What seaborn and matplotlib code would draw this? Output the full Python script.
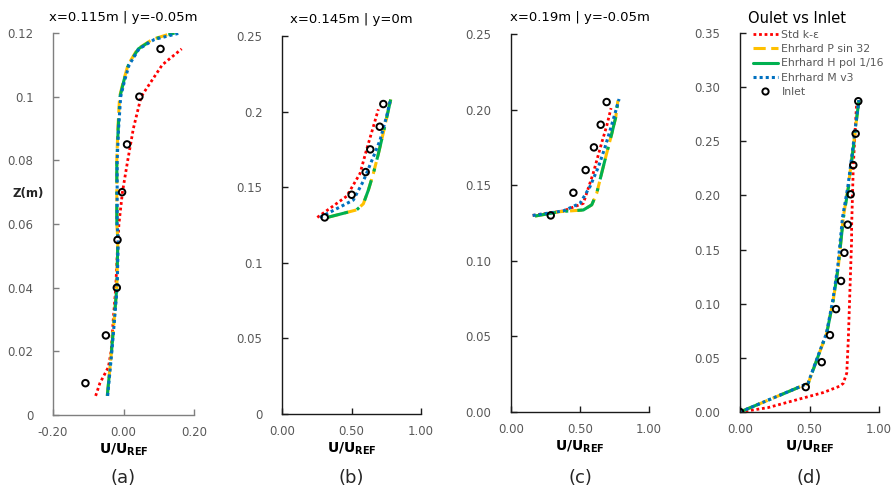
import numpy as np
import pandas as pd
import matplotlib
matplotlib.use("Agg")
import matplotlib.pyplot as plt
import seaborn as sns
from matplotlib.lines import Line2D

# ---------------- data ----------------
# Panel (a)  x=0.115m | y=-0.05m
a_inlet_z = [0.01, 0.025, 0.04, 0.055, 0.07, 0.085, 0.1, 0.115]
a_inlet_u = [-0.108, -0.05, -0.019, -0.017, -0.004, 0.010, 0.045, 0.105]
a_std_z = [0.006, 0.01, 0.015, 0.02, 0.03, 0.04, 0.05, 0.06, 0.07, 0.08, 0.09, 0.1, 0.105, 0.11, 0.115]
a_std_u = [-0.079, -0.067, -0.043, -0.035, -0.029, -0.022, -0.018, -0.013, -0.003, 0.012, 0.028, 0.05, 0.08, 0.11, 0.165]
a_ehr_z = [0.006, 0.02, 0.04, 0.055, 0.06, 0.08, 0.09, 0.1, 0.105, 0.11, 0.115, 0.118, 0.12]
a_ehrP_u = [-0.046, -0.034, -0.019, -0.016, -0.019, -0.019, -0.016, -0.011, 0.0, 0.013, 0.040, 0.082, 0.14]
a_ehrH_u = [-0.046, -0.034, -0.019, -0.016, -0.019, -0.019, -0.015, -0.010, 0.001, 0.014, 0.042, 0.084, 0.145]
a_ehrM_u = [-0.045, -0.033, -0.018, -0.015, -0.018, -0.018, -0.014, -0.008, 0.003, 0.016, 0.044, 0.088, 0.16]

# Panel (b)  x=0.145m | y=0m
b_inlet_z = [0.130, 0.145, 0.160, 0.175, 0.190, 0.205]
b_inlet_u = [0.307, 0.501, 0.602, 0.635, 0.703, 0.729]
b_std_z = [0.130, 0.144, 0.159, 0.175, 0.190, 0.2015]
b_std_u = [0.254, 0.465, 0.561, 0.609, 0.657, 0.693]
b_ehrM_z = [0.130, 0.1415, 0.154, 0.170, 0.181, 0.197, 0.2066]
b_ehrM_u = [0.273, 0.513, 0.585, 0.657, 0.705, 0.753, 0.777]
b_ehr_z = [0.130, 0.135, 0.139, 0.148, 0.159, 0.172, 0.186, 0.208]
b_ehrP_u = [0.326, 0.537, 0.585, 0.621, 0.657, 0.693, 0.729, 0.782]
b_ehrH_u = [0.326, 0.537, 0.585, 0.621, 0.657, 0.693, 0.729, 0.782]

# Panel (c)  x=0.19m | y=-0.05m
c_inlet_z = [0.130, 0.145, 0.160, 0.175, 0.190, 0.205]
c_inlet_u = [0.288, 0.452, 0.541, 0.601, 0.650, 0.693]
c_std_z = [0.130, 0.133, 0.138, 0.158, 0.178, 0.189, 0.201]
c_std_u = [0.157, 0.379, 0.524, 0.596, 0.657, 0.693, 0.725]
c_ehrM_z = [0.130, 0.133, 0.138, 0.149, 0.162, 0.175, 0.186, 0.1975, 0.207]
c_ehrM_u = [0.157, 0.379, 0.500, 0.572, 0.633, 0.681, 0.717, 0.754, 0.783]
c_ehr_z = [0.1296, 0.1325, 0.1336, 0.137, 0.1446, 0.158, 0.171, 0.184, 0.195, 0.206]
c_ehrP_u = [0.174, 0.355, 0.524, 0.585, 0.621, 0.657, 0.693, 0.730, 0.759, 0.775]
c_ehrH_u = [0.174, 0.355, 0.524, 0.585, 0.621, 0.657, 0.693, 0.730, 0.759, 0.775]

# Panel (d)  Oulet vs Inlet
d_inlet_z = [0.0, 0.023, 0.046, 0.071, 0.095, 0.121, 0.147, 0.173, 0.201, 0.228, 0.257, 0.287]
d_inlet_u = [0.0, 0.473, 0.588, 0.647, 0.691, 0.727, 0.751, 0.775, 0.796, 0.815, 0.832, 0.851]
d_std_z = [0.0, 0.004, 0.011, 0.018, 0.024, 0.0265, 0.036, 0.0665, 0.113, 0.159, 0.171, 0.2265, 0.2574, 0.285]
d_std_u = [0.0, 0.2, 0.4, 0.6, 0.72, 0.743, 0.768, 0.779, 0.791, 0.803, 0.803, 0.815, 0.827, 0.839]
d_ehr_z = [0.0, 0.0265, 0.048, 0.0727, 0.1034, 0.134, 0.159, 0.180, 0.208, 0.245, 0.272, 0.288]
d_ehrP_u = [0.0, 0.491, 0.552, 0.624, 0.671, 0.707, 0.727, 0.743, 0.779, 0.815, 0.840, 0.856]
d_ehrH_u = [0.0, 0.491, 0.552, 0.624, 0.671, 0.707, 0.727, 0.745, 0.781, 0.816, 0.840, 0.856]
d_ehrM_u = [0.0, 0.489, 0.550, 0.622, 0.668, 0.703, 0.722, 0.738, 0.776, 0.813, 0.839, 0.856]

titles = ["x=0.115m | y=-0.05m", "x=0.145m | y=0m", "x=0.19m | y=-0.05m", "Oulet vs Inlet"]
panel_labels = ["(a)", "(b)", "(c)", "(d)"]
series_names = ["Std k-\u03b5", "Ehrhard P sin 32", "Ehrhard H pol 1/16", "Ehrhard M v3", "Inlet"]

# ---------------- style ----------------
sns.set_style("ticks")
plt.rcParams['font.family'] = ['DejaVu Sans']

RED, YEL, GRN, BLU = "#FF0000", "#FFC000", "#00B050", "#0070C0"
TICK_C = "#595959"

fig = plt.figure(figsize=(8.91, 4.97), dpi=100)
W, H = 891.0, 497.0
def axrect(l, r, t, b):
    return [l / W, 1 - b / H, (r - l) / W, (b - t) / H]

axes = [
    fig.add_axes(axrect(53, 194, 33, 415)),
    fig.add_axes(axrect(282, 421, 36, 414)),
    fig.add_axes(axrect(511, 649, 34, 412)),
    fig.add_axes(axrect(740, 879, 33, 412)),
]

def draw(ax, std, P, Hh, M, inlet):
    sns.lineplot(x=std[0], y=std[1], ax=ax, sort=False, estimator=None, color=RED,
                 lw=2.0, linestyle=(0, (1, 1)), label=series_names[0])
    sns.lineplot(x=P[0], y=P[1], ax=ax, sort=False, estimator=None, color=YEL,
                 lw=2.2, linestyle=(0, (4, 1.8)), label=series_names[1])
    sns.lineplot(x=Hh[0], y=Hh[1], ax=ax, sort=False, estimator=None, color=GRN,
                 lw=2.2, linestyle=(0, (7, 3, 1, 3)), label=series_names[2])
    sns.lineplot(x=M[0], y=M[1], ax=ax, sort=False, estimator=None, color=BLU,
                 lw=2.2, linestyle=(0, (1, 1)), label=series_names[3])
    sns.scatterplot(x=inlet[0], y=inlet[1], ax=ax, marker="o", s=22, facecolor="none",
                    edgecolor="black", linewidth=1.4, label=series_names[4], zorder=5)

draw(axes[0], (a_std_u, a_std_z), (a_ehrP_u, a_ehr_z), (a_ehrH_u, a_ehr_z), (a_ehrM_u, a_ehr_z), (a_inlet_u, a_inlet_z))
draw(axes[1], (b_std_u, b_std_z), (b_ehrP_u, b_ehr_z), (b_ehrH_u, b_ehr_z), (b_ehrM_u, b_ehrM_z), (b_inlet_u, b_inlet_z))
draw(axes[2], (c_std_u, c_std_z), (c_ehrP_u, c_ehr_z), (c_ehrH_u, c_ehr_z), (c_ehrM_u, c_ehrM_z), (c_inlet_u, c_inlet_z))
draw(axes[3], (d_std_u, d_std_z), (d_ehrP_u, d_ehr_z), (d_ehrH_u, d_ehr_z), (d_ehrM_u, d_ehr_z), (d_inlet_u, d_inlet_z))

# axes config
xlims = [(-0.2, 0.2), (0, 1), (0, 1), (0, 1)]
ylims = [(0, 0.12), (0, 0.25), (0, 0.25), (0, 0.35)]
xticks = [[-0.2, 0.0, 0.2], [0, 0.5, 1.0], [0, 0.5, 1.0], [0, 0.5, 1.0]]
xtl = [["-0.20", "0.00", "0.20"], ["0.00", "0.50", "1.00"], ["0.00", "0.50", "1.00"], ["0.00", "0.50", "1.00"]]
yticks = [[0, 0.02, 0.04, 0.06, 0.08, 0.1, 0.12],
          [0, 0.05, 0.1, 0.15, 0.2, 0.25],
          [0, 0.05, 0.1, 0.15, 0.2, 0.25],
          [0, 0.05, 0.1, 0.15, 0.2, 0.25, 0.3, 0.35]]
ytl = [["0", "0.02", "0.04", "0.06", "0.08", "0.1", "0.12"],
       ["0", "0.05", "0.1", "0.15", "0.2", "0.25"],
       ["0.00", "0.05", "0.10", "0.15", "0.20", "0.25"],
       ["0.00", "0.05", "0.10", "0.15", "0.20", "0.25", "0.30", "0.35"]]
spine_colors = ["#7f7f7f", "#1a1a1a", "#1a1a1a", "#1a1a1a"]

for i, ax in enumerate(axes):
    ax.set_xlim(*xlims[i]); ax.set_ylim(*ylims[i])
    ax.set_xticks(xticks[i]); ax.set_xticklabels(xtl[i])
    ax.set_yticks(yticks[i]); ax.set_yticklabels(ytl[i])
    sns.despine(ax=ax)
    for s in ["left", "bottom"]:
        ax.spines[s].set_color(spine_colors[i]); ax.spines[s].set_linewidth(1.0)
    ax.tick_params(direction="in", length=4, width=1.0, colors=spine_colors[i],
                   labelcolor=TICK_C, labelsize=8.5, pad=8)
    ax.tick_params(axis="y", pad=14)
    ax.set_xlabel(r"$\mathbf{U/U_{REF}}$", fontsize=10, labelpad=2, color="black")
    ax.set_ylabel("")
    if i < 3:
        ax.set_title(titles[i], fontsize=9.5, pad=9, color="black")
        ax.get_legend().remove()
    else:
        ax.set_title(titles[i], fontsize=10.5, pad=7, color="black", x=0.41)
    xc = (ax.get_position().x0 + ax.get_position().x1) / 2
    fig.text(xc, 1 - 478 / H, panel_labels[i], ha="center", va="center", fontsize=13)

# legend in (d)
ax = axes[3]
handles = [
    Line2D([], [], color=RED, lw=2.0, linestyle=(0, (1, 1))),
    Line2D([], [], color=YEL, lw=2.2, linestyle=(0, (4, 1.8))),
    Line2D([], [], color=GRN, lw=2.2, linestyle="-"),
    Line2D([], [], color=BLU, lw=2.2, linestyle=(0, (1, 1))),
    Line2D([], [], color="black", lw=0, marker="o", markersize=4.5, markerfacecolor="none", markeredgewidth=1.4),
]
ax.legend(handles, series_names, loc="upper left", bbox_to_anchor=(0.06, 1.02), frameon=False,
          fontsize=7.8, labelcolor=TICK_C, handlelength=2.3, handletextpad=0.35,
          labelspacing=0.4, borderaxespad=0.0)

fig.text(28 / W, 1 - 193 / H, "Z(m)", ha="center", va="center", fontsize=8.5, fontweight="bold")

fig.savefig("out.png", dpi=100)
